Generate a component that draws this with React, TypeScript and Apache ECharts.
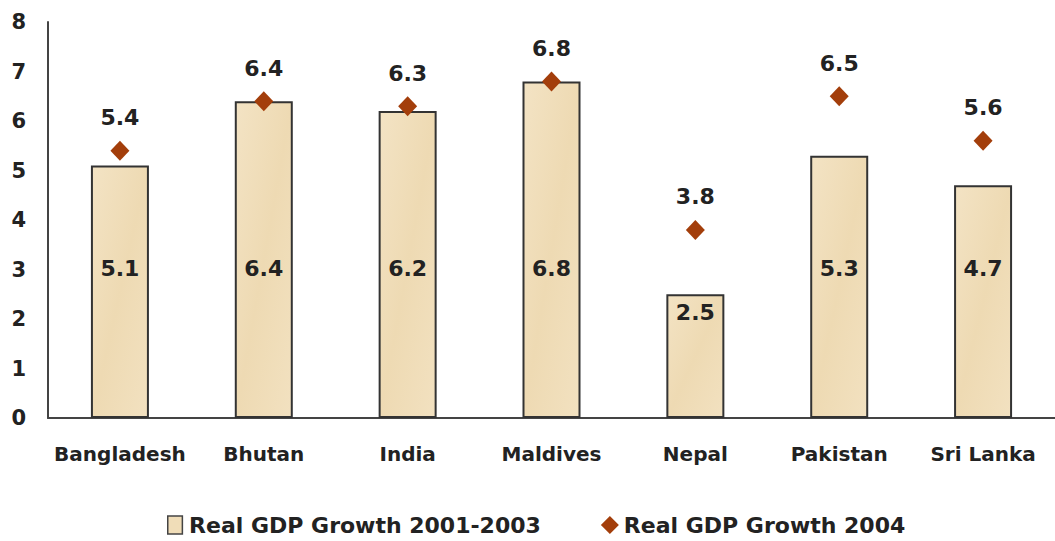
import React, { useEffect, useRef } from "react";
import * as echarts from "echarts";

const categories = ["Bangladesh", "Bhutan", "India", "Maldives", "Nepal", "Pakistan", "Sri Lanka"];
const growth2001to2003 = [5.1, 6.4, 6.2, 6.8, 2.5, 5.3, 4.7];
const growth2004 = [5.4, 6.4, 6.3, 6.8, 3.8, 6.5, 5.6];
const yTicks = [0, 1, 2, 3, 4, 5, 6, 7, 8];
const seriesNames = ["Real GDP Growth 2001-2003", "Real GDP Growth 2004"];

const FONT = "DejaVu Sans";
const TEXT = "#222";

export default function App() {
  const ref = useRef<HTMLDivElement>(null);
  useEffect(() => {
    if (!ref.current) return;
    const chart = echarts.init(ref.current, null, { renderer: "svg" });
    chart.setOption({
      animation: false,
      backgroundColor: "#ffffff",
      grid: { left: 48, top: 22, width: 1018, height: 396 },
      legend: {
        left: 162,
        top: 508,
        itemWidth: 18,
        itemHeight: 18,
        itemGap: 60,
        textStyle: { fontFamily: FONT, fontWeight: "bold", fontSize: 22, color: TEXT, lineHeight: 24 },
        data: [
          {
            name: seriesNames[0],
            icon: "path://M0,0h13v16h-13z",
            itemStyle: { color: "#F0DDB8", borderColor: "#444", borderWidth: 1.5 },
          },
          { name: seriesNames[1], icon: "diamond", itemStyle: { color: "#A33E0B", opacity: 1 } },
        ],
      },
      xAxis: {
        type: "category",
        data: categories,
        axisLine: { lineStyle: { color: "#444", width: 2 } },
        axisTick: { show: false },
        axisLabel: {
          margin: 26,
          fontFamily: FONT,
          fontWeight: "bold",
          fontSize: 20,
          color: TEXT,
          interval: 0,
        },
      },
      yAxis: {
        type: "value",
        min: yTicks[0],
        max: yTicks[yTicks.length - 1],
        interval: 1,
        splitLine: { show: false },
        axisLine: { show: true, lineStyle: { color: "#444", width: 2 } },
        axisTick: { show: false },
        axisLabel: {
          margin: 22,
          fontFamily: FONT,
          fontWeight: "bold",
          fontSize: 21,
          color: TEXT,
        },
      },
      series: [
        {
          name: seriesNames[0],
          type: "bar",
          barWidth: 58,
          data: growth2001to2003.map((v) => ({
            value: v,
            label:
              v < 4
                ? { position: "insideTop", distance: 7 }
                : { position: "insideBottom", distance: 139 },
          })),
          itemStyle: {
            color: new echarts.graphic.LinearGradient(0, 0, 1, 1, [
              { offset: 0, color: "#F3E3C4" },
              { offset: 0.5, color: "#EEDAB3" },
              { offset: 1, color: "#F2E1C0" },
            ]),
            borderColor: "#333",
            borderWidth: 2,
          },
          label: {
            show: true,
            fontFamily: FONT,
            fontWeight: "bold",
            fontSize: 22,
            color: TEXT,
            formatter: (p: any) => p.value.toFixed(1),
          },
        },
        {
          name: seriesNames[1],
          type: "scatter",
          symbol: "diamond",
          symbolSize: [19, 20],
          data: growth2004,
          itemStyle: { color: "#A33E0B", opacity: 1 },
          label: {
            show: true,
            position: "top",
            distance: 12,
            fontFamily: FONT,
            fontWeight: "bold",
            fontSize: 22,
            color: TEXT,
            formatter: (p: any) => p.value.toFixed(1),
          },
        },
      ],
    });
    return () => chart.dispose();
  }, []);
  return (
    <div
      ref={ref}
      style={{ position: "absolute", left: 0, top: 0, width: 1055, height: 541 }}
    />
  );
}
